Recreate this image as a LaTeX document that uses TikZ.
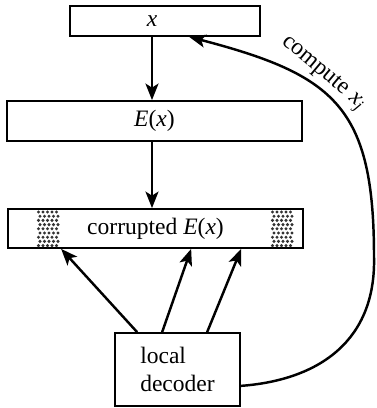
\documentclass[tikz,border=0pt]{standalone}
\usepackage{fontspec}
\setmainfont{Liberation Serif}
\usetikzlibrary{arrows.meta, positioning, calc}

\tikzset{
  box/.style={draw, line width=1pt, inner sep=0pt},
  arr/.style={-{Stealth[length=3.3mm,width=2.6mm,inset=0.8mm]}, line width=1.4pt},
}

\begin{document}
\begin{tikzpicture}[x=0.02cm, y=-0.02cm, font=\fontsize{13.4}{15.5}\selectfont]
    \useasboundingbox (0,0) rectangle (376,408);
    \node[box, minimum width=3.8cm, minimum height=0.6cm] (xbox) at (165,21) {};
    \node (xlab) at (152,21) {\textit{x}};
    \node[box, minimum width=5.9cm, minimum height=0.8cm] (ebox) at (154.5,121) {\textit{E}(\textit{x})};
    \node[box, minimum width=5.9cm, minimum height=0.78cm] (cbox) at (155.5,228.5) {corrupted \textit{E}(\textit{x})};
    \foreach \px in {36,270} {
      \foreach \i in {0,...,4} {
        \foreach \j in {0,...,8} {
          \fill[black!80] ({\px+2.5+4.5*\i+1.5*mod(\j,2)},{212+4.2*\j}) circle[radius=0.95pt];
        }
      }
    }
    \node[box, minimum width=2.5cm, minimum height=1.46cm, align=left] (dec) at (177.5,369.5) {local\\decoder};
    \draw[arr] (xlab |- xbox.south) -- (xlab |- ebox.north);
    \draw[arr] (xlab |- ebox.south) -- (xlab |- cbox.north);
    \draw[arr] ($(dec.north west)+(23,0)$) -- ($(cbox.south west)+(54,0)$);
    \draw[arr] ($(dec.north west)+(48,0)$) -- ($(cbox.south west)+(184,0)$);
    \draw[arr] ($(dec.north west)+(93,0)$) -- ($(cbox.south west)+(234,0)$);
    \coordinate (bend) at (374,257);
    \draw[arr] ($(dec.south east)+(0,-21)$) .. controls (320,380) and (376,340) .. (bend)
      .. controls (374,107) and (335,75) .. ($(xbox.south west)+(120,0)$);
    \node[rotate=-40] (clab) at (323,74) {compute \textit{x}\textsubscript{\textit{j}}};
  \end{tikzpicture}
\end{document}
